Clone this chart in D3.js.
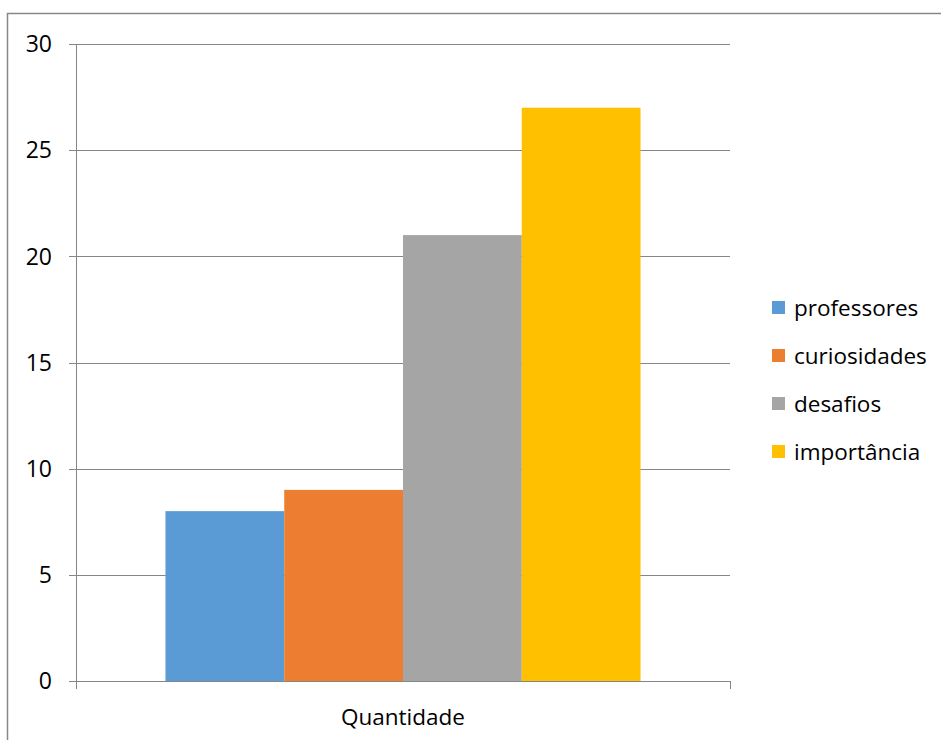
<!DOCTYPE html>
<html>
<head>
<meta charset="utf-8">
<script src="https://cdn.jsdelivr.net/npm/d3@7"></script>
<style>
  body { margin: 0; background: #fff; }
  svg text { font-family: "Open Sans", sans-serif; fill: #000; }
</style>
</head>
<body>
<div id="chart"></div>
<script>
// Data
const categories = ["Quantidade"];
const seriesNames = ["professores", "curiosidades", "desafios", "importância"];
const seriesValues = [8, 9, 21, 27];
const colors = ["#5b9bd5", "#ed7d31", "#a5a5a5", "#ffc000"];
const yTicks = [0, 5, 10, 15, 20, 25, 30];

const W = 941, H = 740;
const plot = {left: 76, right: 730, top: 44, bottom: 681};

const svg = d3.select("#chart").append("svg")
    .attr("width", W)
    .attr("height", H);

// outer frame
svg.append("rect")
    .attr("x", 7.5).attr("y", 13.5)
    .attr("width", W + 10).attr("height", H + 10)
    .attr("fill", "none")
    .attr("stroke", "#888")
    .attr("stroke-width", 1.5);

// Scales
const y = d3.scaleLinear().domain([0, 30]).range([plot.bottom, plot.top]);
const x0 = d3.scaleBand().domain(categories).range([plot.left, plot.right]).padding(0.1585);
const x1 = d3.scaleBand().domain(seriesNames).range([0, x0.bandwidth()]);

// gridlines
svg.append("g").selectAll("line")
    .data(yTicks)
  .enter().append("line")
    .attr("x1", plot.left - 7).attr("x2", plot.right)
    .attr("y1", d => Math.round(y(d)) + 0.5).attr("y2", d => Math.round(y(d)) + 0.5)
    .attr("stroke", "#868686")
    .attr("stroke-width", 1);

// y labels
svg.append("g").selectAll("text")
    .data(yTicks)
  .enter().append("text")
    .attr("x", 52)
    .attr("y", d => y(d))
    .attr("dy", "0.36em")
    .attr("text-anchor", "end")
    .style("font-size", "23px")
    .text(d => d);

// bars
const groups = svg.append("g").selectAll("g")
    .data(categories)
  .enter().append("g")
    .attr("transform", d => `translate(${x0(d)},0)`);

groups.selectAll("rect")
    .data(seriesNames.map((s, i) => ({name: s, value: seriesValues[i], color: colors[i]})))
  .enter().append("rect")
    .attr("x", d => x1(d.name))
    .attr("width", x1.bandwidth())
    .attr("y", d => y(d.value))
    .attr("height", d => y(0) - y(d.value))
    .attr("fill", d => d.color);

// y axis line
svg.append("line")
    .attr("x1", plot.left + 0.5).attr("x2", plot.left + 0.5)
    .attr("y1", plot.top).attr("y2", plot.bottom + 8)
    .attr("stroke", "#868686");

// x axis ticks at category edges
svg.append("line")
    .attr("x1", plot.right + 0.5).attr("x2", plot.right + 0.5)
    .attr("y1", plot.bottom).attr("y2", plot.bottom + 8)
    .attr("stroke", "#868686");

// x label
svg.append("g").selectAll("text")
    .data(categories)
  .enter().append("text")
    .attr("x", d => x0(d) + x0.bandwidth() / 2)
    .attr("y", 717)
    .attr("dy", "0.36em")
    .attr("text-anchor", "middle")
    .style("font-size", "22.5px")
    .text(d => d);

// legend
const legend = svg.append("g").selectAll("g")
    .data(seriesNames)
  .enter().append("g")
    .attr("transform", (d, i) => `translate(772,${308 + i * 48})`);

legend.append("rect")
    .attr("x", 0).attr("y", -7)
    .attr("width", 13).attr("height", 13)
    .attr("fill", (d, i) => colors[i]);

legend.append("text")
    .attr("x", 22)
    .attr("y", 0)
    .attr("dy", "0.36em")
    .style("font-size", "22.5px")
    .text(d => d);
</script>
</body>
</html>
